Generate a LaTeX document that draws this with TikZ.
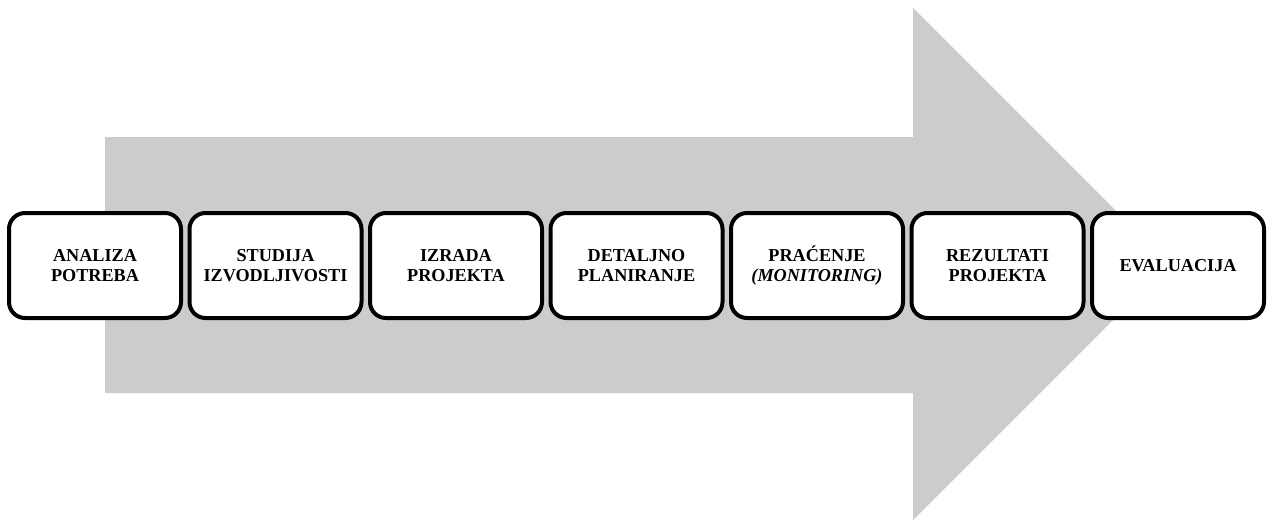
\documentclass[tikz,border=0pt]{standalone}
\usepackage{fontspec}
\setmainfont{Liberation Serif}
\usetikzlibrary{positioning}

\begin{document}
\begin{tikzpicture}[x=1pt,y=1pt]
  \tikzset{
    phase/.style={draw,line width=4pt,rounded corners=16pt,fill=white,
      minimum width=172pt,minimum height=105pt,align=center,
      font=\fontsize{18.2}{20}\selectfont\bfseries}, % Process boxes
    flow/.style={fill=black!20} % Background arrow
  }
  \useasboundingbox (0,0) rectangle (1269,-520);

  % big arrow behind the boxes
  \fill[flow] (105,-137) -- (913,-137) -- (913,-8) -- (1169,-264)
    -- (913,-520) -- (913,-393) -- (105,-393) -- cycle;

  \node[phase] (analiza) at (95,-265.5) {ANALIZA\\POTREBA};
  \node[phase,right=4.5pt of analiza] (studija) {STUDIJA\\IZVODLJIVOSTI};
  \node[phase,right=4.5pt of studija] (izrada) {IZRADA\\PROJEKTA};
  \node[phase,right=4.5pt of izrada] (planiranje) {DETALJNO\\PLANIRANJE};
  \node[phase,right=4.5pt of planiranje] (pracenje) {PRAĆENJE\\\textit{(MONITORING)}};
  \node[phase,right=4.5pt of pracenje] (rezultati) {REZULTATI\\PROJEKTA};
  \node[phase,right=4.5pt of rezultati] (evaluacija) {EVALUACIJA};
\end{tikzpicture}
\end{document}
